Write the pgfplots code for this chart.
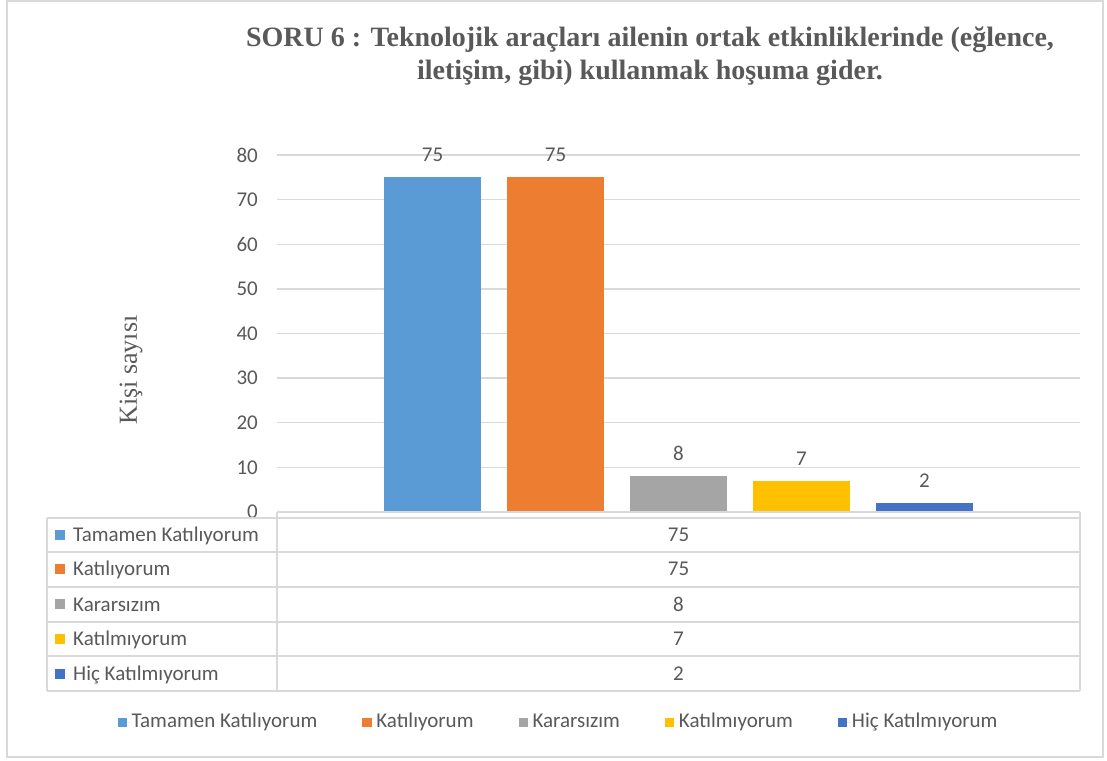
\documentclass[border=0pt]{standalone}
\usepackage{fontspec}
\setmainfont{Carlito}
\newfontfamily\titlefont{Liberation Serif}
\usepackage{pgfplots}
\pgfplotsset{compat=1.18}
\definecolor{c1}{HTML}{5B9BD5}
\definecolor{c2}{HTML}{ED7D31}
\definecolor{c3}{HTML}{A5A5A5}
\definecolor{c4}{HTML}{FFC000}
\definecolor{c5}{HTML}{4472C4}
\definecolor{textgray}{HTML}{595959}
\definecolor{gridgray}{HTML}{D9D9D9}
\newcommand{\lbl}{\fontsize{21}{25}\selectfont}
\begin{document}
\begin{tikzpicture}[x=1pt,y=1pt]
\useasboundingbox (0,0) rectangle (1107,760);
\fill[white] (0,0) rectangle (1107,760);
\draw[draw=gridgray, line width=2pt] (7,3) rectangle (1103,759);
% title
\node[anchor=base, text=textgray, font={\titlefont\bfseries\fontsize{28}{32}\selectfont}] at (650,713) {SORU 6 : Teknolojik araçları ailenin ortak etkinliklerinde (eğlence,};
\node[anchor=base, text=textgray, font={\titlefont\bfseries\fontsize{28}{32}\selectfont}] at (650,680) {iletişim, gibi) kullanmak hoşuma gider.};
% y label
\node[rotate=90, text=textgray, font={\titlefont\fontsize{26}{30}\selectfont}] at (131,390) {Kişi sayısı};
\begin{axis}[
  at={(277pt,248pt)}, anchor=south west,
  scale only axis, width=803pt, height=357pt,
  xmin=-0.5, xmax=0.5, ymin=0, ymax=80,
  ytick={0,10,...,80}, xtick=\empty,
  ymajorgrids, grid style={draw=gridgray, line width=1.3pt},
  axis line style={draw=none},
  major tick length=0pt,
  /pgf/number format/assume math mode=true,
  yticklabel style={font=\lbl, text=textgray, inner sep=0pt, xshift=-19pt},
  ybar=26pt, bar width=97pt,
  nodes near coords,
  every node near coord/.append style={font=\lbl, text=textgray, anchor=south, inner sep=0pt, yshift=15pt},
  clip=false,
  legend columns=5,
  legend style={at={(axis description cs:0.35,-0.59)}, anchor=center, draw=none, fill=none,
    font=\lbl, text=textgray, /tikz/every even column/.append style={column sep=44pt},
    nodes={inner sep=1pt, text height=14pt, text depth=5pt}},
  legend image code/.code={\fill[#1] (0pt,-4.8pt) rectangle (9.5pt,4.8pt); \path (0pt,0pt) -- (13pt,0pt);},
]
\addplot[fill=c1, draw=none] coordinates {(0,75)};
\addplot[fill=c2, draw=none] coordinates {(0,75)};
\addplot[fill=c3, draw=none] coordinates {(0,8)};
\addplot[fill=c4, draw=none] coordinates {(0,7)};
\addplot[fill=c5, draw=none] coordinates {(0,2)};
\legend{Tamamen Katılıyorum, Katılıyorum, Kararsızım, Katılmıyorum, Hiç Katılmıyorum}
\end{axis}
% data table
\begin{scope}[gridgray, line width=1.5pt]
\draw (277,248) -- (1080,248);
\foreach \y in {242,208,173,138,104,69} \draw (47,\y) -- (1080,\y);
\draw (47,242) -- (47,69);
\draw (277,248) -- (277,69);
\draw (1080,248) -- (1080,69);
\end{scope}
\foreach \name/\col/\v/\rc in {Tamamen Katılıyorum/c1/75/225,Katılıyorum/c2/75/190.5,Kararsızım/c3/8/155.5,Katılmıyorum/c4/7/121,Hiç Katılmıyorum/c5/2/86.5}{
  \fill[\col] (55,\rc-5) rectangle (65,\rc+5);
  \node[anchor=base west, inner sep=0pt, text=textgray, font=\lbl] at (73,\rc-6.5) {\name};
  \node[anchor=base, inner sep=0pt, text=textgray, font=\lbl] at (678.5,\rc-6.5) {\v};
}
\end{tikzpicture}
\end{document}
